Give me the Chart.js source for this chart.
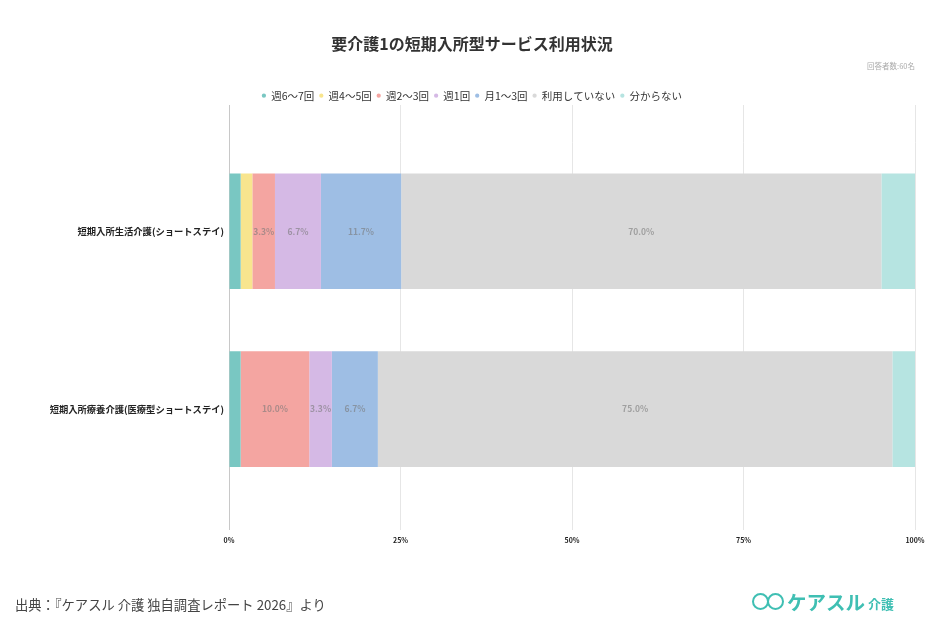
<!DOCTYPE html>
<html lang="ja">
<head>
<meta charset="utf-8">
<script src="https://cdn.jsdelivr.net/npm/chart.js@4.4.1/dist/chart.umd.min.js"></script>
<style>
  html, body { margin: 0; padding: 0; background: #fff; }
  #wrap { position: relative; width: 944px; height: 627px; overflow: hidden; }
  #c { position: absolute; left: 0; top: 0; }
  #source { position: absolute; left: 15px; top: 595px; font-family: 'Noto Sans CJK JP', 'Noto Sans', sans-serif; font-size: 13.3px; color: #444; line-height: 20px; white-space: nowrap; }
  #logo { position: absolute; left: 752px; top: 589px; height: 24px; display: flex; align-items: center; font-family: 'Noto Sans CJK JP', sans-serif; color: #3fbfb3; white-space: nowrap; }
  #logo .ic { position: relative; width: 35px; height: 20px; }
  #logo .ic span { position: absolute; top: 2px; width: 13px; height: 13px; border: 2.5px solid #3fbfb3; border-radius: 50%; }
  #logo .ic span.a { left: 0; }
  #logo .ic span.b { left: 15px; }
  #logo .big { font-size: 19.5px; font-weight: 700; }
  #logo .small { font-size: 13px; font-weight: 700; margin-left: 3px; margin-top: 4px; }
</style>
</head>
<body>
<div id="wrap">
  <canvas id="c" width="944" height="627"></canvas>
  <div id="source">出典：『ケアスル 介護 独自調査レポート 2026』より</div>
  <div id="logo"><div class="ic"><span class="a"></span><span class="b"></span></div><span class="big">ケアスル</span><span class="small">介護</span></div>
</div>
<script>
const categories = ['短期入所生活介護(ショートステイ)', '短期入所療養介護(医療型ショートステイ)'];
const seriesNames = ['週6〜7回', '週4〜5回', '週2〜3回', '週1回', '月1〜3回', '利用していない', '分からない'];
const week6to7 = [1.7, 1.7];
const week4to5 = [1.7, 0];
const week2to3 = [3.3, 10.0];
const week1 = [6.7, 3.3];
const month1to3 = [11.7, 6.7];
const notUsing = [70.0, 75.0];
const unknown = [5.0, 3.3];
const xTickValues = [0, 25, 50, 75, 100];
const xTickLabels = ['0%', '25%', '50%', '75%', '100%'];
const chartTitle = '要介護1の短期入所型サービス利用状況';
const respondents = '回答者数:60名';

const seriesValues = [week6to7, week4to5, week2to3, week1, month1to3, notUsing, unknown];
const colors = ['#79C7C2', '#F8E58E', '#F4A5A1', '#D5B9E5', '#9EBEE4', '#D9D9D9', '#B6E4E1'];
const labelled = [true, true, true, true, true, true, false];

Chart.defaults.font.family = "'Noto Sans CJK JP', 'Noto Sans', sans-serif";

const gridColor = '#e6e6e6';

const extendGrid = {
  id: 'extendGrid',
  beforeDatasetsDraw(chart) {
    const { ctx, chartArea, scales } = chart;
    const x = scales.x;
    ctx.save();
    ctx.lineWidth = 1;
    xTickValues.forEach((v, i) => {
      const px = Math.round(x.getPixelForValue(v) - 0.5) + 0.5;
      ctx.strokeStyle = i === 0 ? '#c8c8c8' : gridColor;
      ctx.beginPath();
      ctx.moveTo(px, 105);
      ctx.lineTo(px, chartArea.top);
      ctx.stroke();
    });
    ctx.restore();
  }
};

const valueLabels = {
  id: 'valueLabels',
  afterDatasetsDraw(chart) {
    const { ctx } = chart;
    ctx.save();
    ctx.font = "bold 8.5px 'Noto Sans CJK JP', 'Noto Sans', sans-serif";
    ctx.fillStyle = 'rgba(120,120,120,0.6)';
    ctx.textAlign = 'center';
    ctx.textBaseline = 'middle';
    chart.data.datasets.forEach((ds, di) => {
      if (!labelled[di]) return;
      const meta = chart.getDatasetMeta(di);
      meta.data.forEach((el, i) => {
        const v = ds.data[i];
        if (v < 2) return;
        const cx = (el.x + el.base) / 2;
        ctx.fillText(v.toFixed(1) + '%', cx, el.y);
      });
    });
    ctx.restore();
  }
};

const legendSpacing = {
  id: 'legendSpacing',
  beforeInit(chart) {
    const orig = chart.legend.fit;
    chart.legend.fit = function () {
      orig.bind(chart.legend)();
      this.height = 57;
    };
  }
};

new Chart(document.getElementById('c'), {
  type: 'bar',
  data: {
    labels: categories,
    datasets: seriesNames.map((name, i) => ({
      label: name,
      data: seriesValues[i],
      backgroundColor: colors[i],
      borderWidth: 0,
      categoryPercentage: 1,
      barPercentage: 0.65
    }))
  },
  options: {
    indexAxis: 'y',
    responsive: false,
    animation: false,
    devicePixelRatio: 1,
    layout: { padding: { left: 29, right: 29, top: 0, bottom: 75.6 } },
    scales: {
      x: {
        stacked: true,
        min: 0,
        max: 100,
        afterBuildTicks(s) { s.ticks = xTickValues.map(v => ({ value: v })); },
        ticks: {
          callback: (v, i) => xTickLabels[i],
          font: { size: 7, weight: 'bold' },
          color: '#222',
          padding: 6.5,
          maxRotation: 0
        },
        grid: { color: (c) => c.index === 0 ? '#c8c8c8' : gridColor, drawTicks: true, tickLength: 32 },
        border: { display: false }
      },
      y: {
        stacked: true,
        afterFit(s) { s.width = 200; },
        ticks: {
          font: { size: 9.3, weight: 'bold' },
          color: '#222',
          padding: 5
        },
        grid: { display: false, drawTicks: false },
        border: { display: true, color: '#c8c8c8' }
      }
    },
    plugins: {
      title: {
        display: true,
        text: chartTitle,
        font: { size: 16, weight: 'bold' },
        color: '#333',
        padding: { top: 34.5, bottom: 7.7 }
      },
      subtitle: {
        display: true,
        text: respondents,
        align: 'end',
        font: { size: 7.5 },
        color: '#aaa',
        padding: { top: 0, bottom: 15 }
      },
      legend: {
        position: 'top',
        labels: {
          usePointStyle: true,
          pointStyle: 'circle',
          boxWidth: 4,
          boxHeight: 3,
          padding: 5,
          font: { size: 10.5 },
          color: '#333'
        }
      },
      tooltip: { enabled: false }
    }
  },
  plugins: [extendGrid, valueLabels, legendSpacing]
});
</script>
</body>
</html>
